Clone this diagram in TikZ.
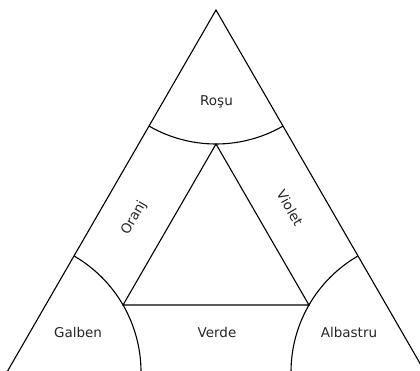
\documentclass[tikz,border=0pt]{standalone}
\usepackage{fontspec}
\setmainfont{DejaVu Sans}
\usetikzlibrary{calc}
\begin{document}
\begin{tikzpicture}[x=1pt,y=1pt,
  edge/.style={line width=1.1pt,line join=miter},
  lbl/.style={font=\fontsize{13.5}{16}\selectfont,text=black!85,inner sep=0pt}]
\useasboundingbox (0,0) rectangle (420,370);
\clip (0,0) rectangle (420,370);
\coordinate (A) at (216,360);
\coordinate (B) at ($(A)+(240:418)$);
\coordinate (C) at ($(A)+(300:418)$);
\coordinate (Ai) at ($(A)+(270:134)$);
\coordinate (Bi) at ($(B)+(30:134)$);
\coordinate (Ci) at ($(C)+(150:134)$);
\draw[edge] (B) -- (A) -- (C);
\draw[edge] (Ai) -- (Bi) -- (Ci) -- cycle;
\draw[edge] ($(A)+(240:134)$) arc[start angle=240,end angle=300,radius=134];
\draw[edge] ($(B)+(0:134)$) arc[start angle=0,end angle=60,radius=134];
\draw[edge] ($(C)+(120:134)$) arc[start angle=120,end angle=180,radius=134];
\node[lbl] (rosu) at (216.5,268) {Roşu};
\node[lbl] (galben) at (78,38) {Galben};
\node[lbl] (verde) at (217,38) {Verde};
\node[lbl] (albastru) at (349,38) {Albastru};
\node[lbl,rotate=60] (oranj) at (134,152) {Oranj};
\node[lbl,rotate=-60] (violet) at (290,162) {Violet};
\end{tikzpicture}
\end{document}
